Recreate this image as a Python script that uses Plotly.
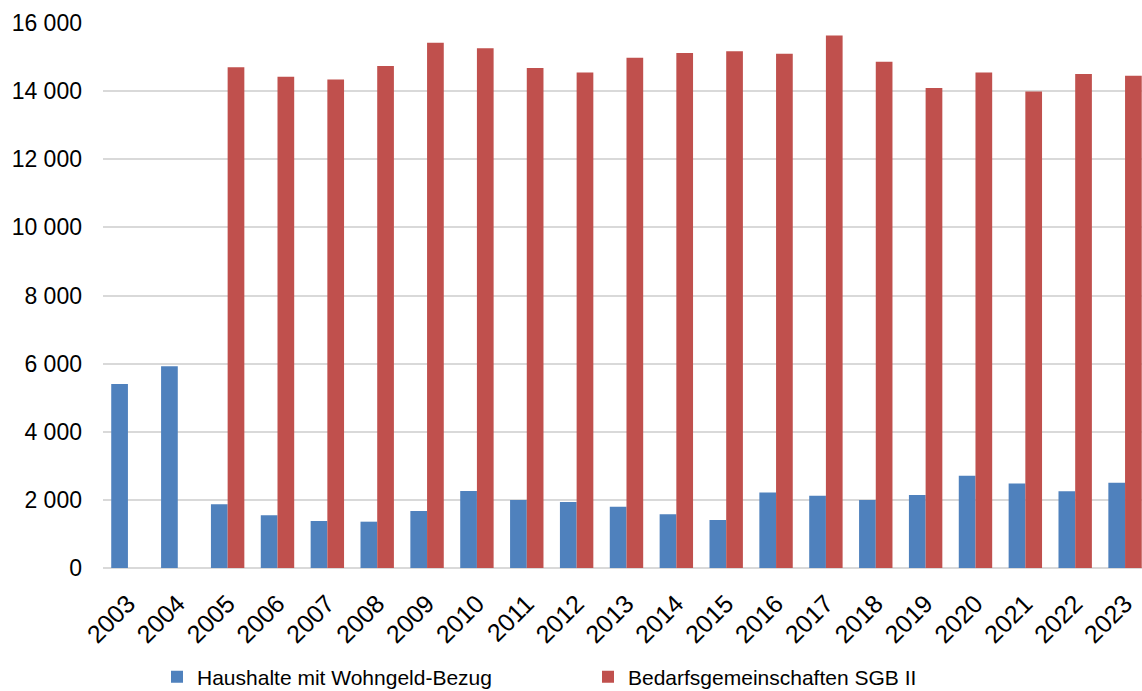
import plotly.graph_objects as go

# Jahre und Werte
jahre = [str(j) for j in range(2003, 2024)]

wohngeld = [5400, 5920, 1870, 1550, 1380, 1360, 1670, 2260, 2000, 1940,
            1800, 1580, 1410, 2220, 2120, 2000, 2140, 2710, 2480, 2250, 2500]

sgb2 = [None, None, 14700, 14420, 14340, 14740, 15420, 15260, 14680, 14550,
        14980, 15120, 15170, 15100, 15630, 14860, 14090, 14550, 13990, 14500, 14450]

y_ticks = list(range(0, 16001, 2000))

FONT = "Liberation Sans, Arial, sans-serif"

fig = go.Figure()
fig.add_trace(go.Bar(
    x=jahre, y=wohngeld, name="Haushalte mit Wohngeld-Bezug",
    marker=dict(color="#4F81BD", line=dict(width=0)),
))
fig.add_trace(go.Bar(
    x=jahre, y=sgb2, name="Bedarfsgemeinschaften SGB II",
    marker=dict(color="#C0504D", line=dict(width=0)),
))

fig.update_layout(
    width=1142, height=691,
    margin=dict(l=103, r=0, t=23, b=123),
    paper_bgcolor="white", plot_bgcolor="white",
    barmode="group", bargap=0.33, bargroupgap=0,
    separators=", ",
    font=dict(family=FONT, color="#000000"),
    showlegend=True,
    legend=dict(
        orientation="h",
        xref="container", yref="container",
        x=157 / 1142, xanchor="left",
        y=14 / 691, yanchor="middle",
        font=dict(size=21, family=FONT),
        itemwidth=30,
        entrywidth=386, entrywidthmode="pixels",
        bgcolor="rgba(0,0,0,0)",
    ),
)

fig.update_xaxes(
    type="category",
    range=[-0.5, 20.34],
    tickangle=-45,
    tickfont=dict(size=25, family=FONT),
    showgrid=False,
    showline=False,
    ticks="",
    ticklabelstandoff=15,
)

fig.update_yaxes(
    range=[0, 16000],
    tickvals=y_ticks,
    tickformat=",d",
    tickfont=dict(size=23, family=FONT),
    showgrid=True, gridcolor="#D9D9D9", gridwidth=2,
    zeroline=True, zerolinecolor="#D9D9D9", zerolinewidth=2,
    showline=False,
    ticks="",
    ticklabelstandoff=20,
)

fig.write_html("out.html")
